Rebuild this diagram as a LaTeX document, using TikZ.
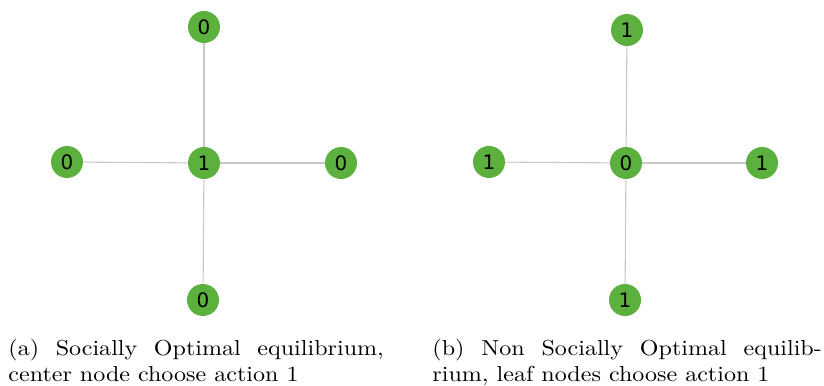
\documentclass[tikz,border=0pt]{standalone}
\usepackage{fontspec}
\newfontfamily\nodefont{DejaVu Sans}
\definecolor{nodegreen}{RGB}{92,176,62}
\definecolor{edgegray}{RGB}{200,200,200}
\begin{document}
\begin{tikzpicture}[x=0.4615pt,y=-0.4615pt,
  vert/.style={circle,fill=nodegreen,draw=none,minimum size=32*0.4615pt,inner sep=0pt,font=\nodefont\fontsize{9.2}{10}\selectfont},
  edge/.style={draw=edgegray,line width=0.5pt},
  captext/.style={anchor=base west,inner sep=0pt}]
\useasboundingbox (0,0) rectangle (824,386);
% graph (a)
\node[vert] (ac) at (204,163) {1};
\node[vert] (at) at (204,27) {0};
\node[vert] (ab) at (203,300) {0};
\node[vert] (al) at (67,162) {0};
\node[vert] (ar) at (341,163) {0};
% graph (b)
\node[vert] (bc) at (626,163) {0};
\node[vert] (bt) at (627,30) {1};
\node[vert] (bb) at (625,300) {1};
\node[vert] (bl) at (489,162) {1};
\node[vert] (br) at (762,163) {1};
\foreach \c/\o in {ac/at,ac/ab,ac/al,ac/ar,bc/bt,bc/bb,bc/bl,bc/br}
  \draw[edge] (\c) -- (\o);
% captions
\node[captext] (capa) at (8,356)
  {\scalebox{1.11}[1]{\parbox[t]{156.1pt}{(a) Socially Optimal equilibrium,\linebreak center node choose action 1}}};
\node[captext] (capb) at (432,356)
  {\scalebox{1.11}[1]{\parbox[t]{161.9pt}{(b) Non Socially Optimal equilib-\linebreak rium, leaf nodes choose action 1}}};
\end{tikzpicture}
\end{document}
